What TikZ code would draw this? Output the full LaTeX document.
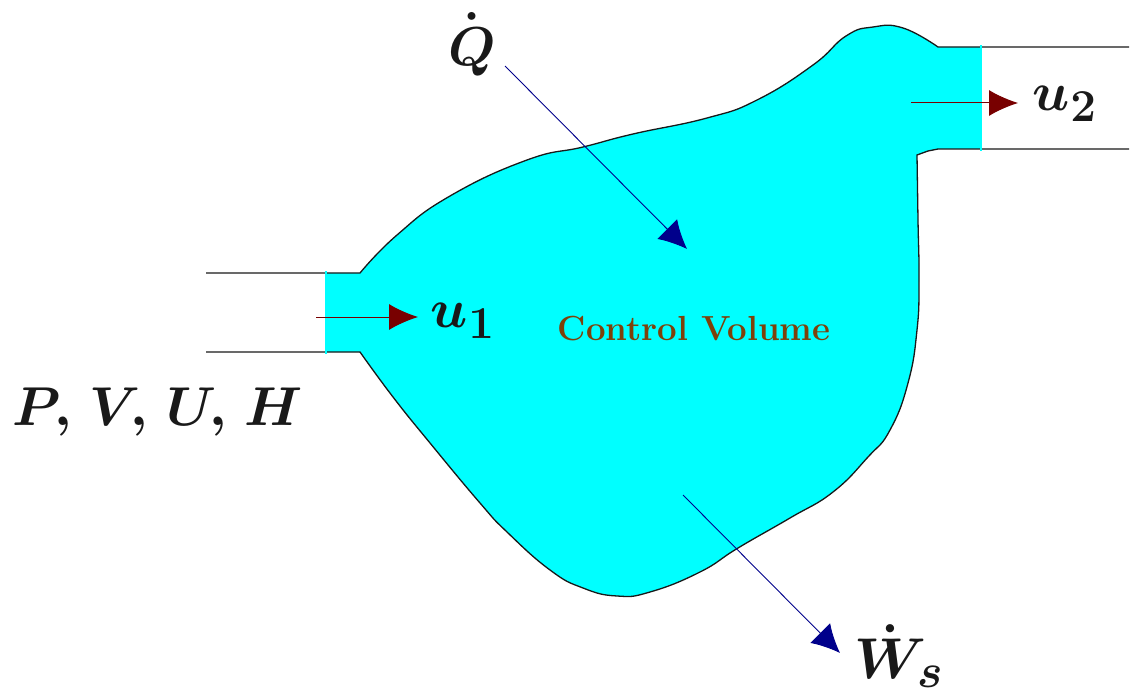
\documentclass[tikz,border=0pt]{standalone}
\usepackage{amsmath}
\usepackage{bm}
\usetikzlibrary{arrows.meta}
\definecolor{cv}{RGB}{0,255,255}
\definecolor{bluearrow}{RGB}{0,0,139}
\definecolor{redarrow}{RGB}{120,0,0}
\definecolor{cvtext}{RGB}{125,65,10}
\tikzset{
  pipe/.style={line width=1.3pt,black!90},
  flow/.style={redarrow,line width=1pt,-{Latex[length=29pt,width=26pt]}},
  heat/.style={bluearrow,line width=0.9pt,-{Latex[length=28pt,width=28pt]}},
  lab/.style={inner sep=0pt,text=black!90,font=\Huge,scale=2.2},
  edge/.style={smooth,tension=0.8}
}
\def\upperedge{(360,273) -- plot[edge] coordinates {(360,273) (397,235) (450,196) (527,160) (583,147) (633,134) (707,118) (757,100) (813,65) (846,36) (873,27) (903,28) (938,47)}}
\def\loweredge{(938,149) -- (928,151) -- plot[edge] coordinates {(917,155) (918,220) (919,280) (917,330) (908,383) (890,430) (868,457) (833,492) (790,518) (738,548) (700,572) (650,592) (617,596) (583,588) (550,570) (507,532) (480,503) (430,443) (393,397) (360,352)}}
\begin{document}
\begin{tikzpicture}[x=1pt,y=-1pt]
\useasboundingbox (0,0) rectangle (1131,692);
\fill[cv] (325,273) -- \upperedge -- (981,47) -- (981,149) -- \loweredge -- (325,352) -- cycle;
\draw[pipe] (206,273) -- \upperedge -- (1129,47);
\draw[pipe] (1129,149) -- \loweredge -- (206,352);
\fill[cv] (324.5,271) rectangle (326.5,354);
\fill[cv] (980,45) rectangle (982,151);
\coordinate (a1s) at (316,317); \coordinate (a1e) at (418,317);
\coordinate (a2s) at (911,103); \coordinate (a2e) at (1018,103);
\coordinate (qs) at (505,66); \coordinate (qe) at (687,249);
\coordinate (ws) at (683,495); \coordinate (we) at (840,653);
\draw[flow] (a1s) -- (a1e);
\draw[flow] (a2s) -- (a2e);
\draw[heat] (qs) -- (qe);
\draw[heat] (ws) -- (we);
\node[lab] (q) at (472,44) {$\bm{\dot{Q\rule{0pt}{18pt}}}$};
\node[lab,scale=1.05] (w) at (899,656) {$\bm{\dot{W\rule{0pt}{17pt}}_{\!s}}$};
\node[lab] (u1) at (463,321) {$\bm{u_1}$};
\node[lab] (u2) at (1065,104) {$\bm{u_2}$};
\node[lab] (pv) at (158,412) {$\bm{P,\mskip3mu V,\mskip3mu U,\mskip3mu H}$};
\node[inner sep=0pt,text=cvtext,font=\Huge\bfseries,scale=1.4] (cvl) at (694,329) {Control Volume};
\end{tikzpicture}
\end{document}
